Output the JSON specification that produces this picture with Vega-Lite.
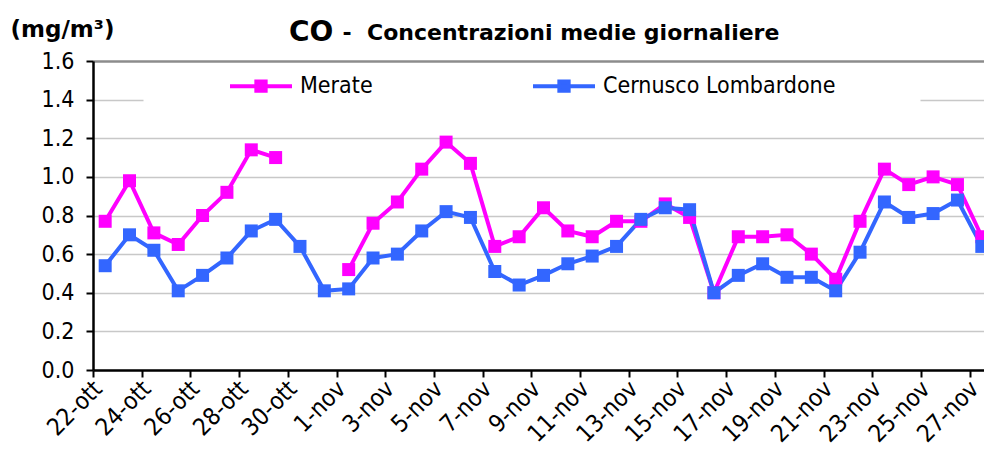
{
  "$schema": "https://vega.github.io/schema/vega-lite/v6.json",
  "width": 891,
  "height": 309,
  "autosize": {"type": "none"},
  "padding": {"left": 93, "top": 61, "right": 0, "bottom": 80},
  "background": "white",
  "config": {"view": {"stroke": null}, "font": "DejaVu Sans"},
  "title": {
    "text": "CO",
    "subtitle": "\u200b\u00a0\u00a0\u00a0\u00a0\u00a0\u00a0\u00a0-\u00a0\u00a0Concentrazioni medie giornaliere",
    "anchor": "start",
    "frame": "group",
    "dx": 196,
    "dy": 29,
    "offset": 0,
    "font": "DejaVu Sans",
    "fontSize": 28,
    "fontWeight": "bold",
    "color": "black",
    "subtitleFont": "DejaVu Sans",
    "subtitleFontSize": 22,
    "subtitleFontWeight": "bold",
    "subtitleColor": "black",
    "subtitlePadding": -24
  },
  "datasets": {
    "co": [
      {"giorno": "2008-10-22", "stazione": "Merate", "valore": 0.77},
      {"giorno": "2008-10-23", "stazione": "Merate", "valore": 0.98},
      {"giorno": "2008-10-24", "stazione": "Merate", "valore": 0.71},
      {"giorno": "2008-10-25", "stazione": "Merate", "valore": 0.65},
      {"giorno": "2008-10-26", "stazione": "Merate", "valore": 0.80},
      {"giorno": "2008-10-27", "stazione": "Merate", "valore": 0.92},
      {"giorno": "2008-10-28", "stazione": "Merate", "valore": 1.14},
      {"giorno": "2008-10-29", "stazione": "Merate", "valore": 1.10},
      {"giorno": "2008-10-30", "stazione": "Merate", "valore": null},
      {"giorno": "2008-10-31", "stazione": "Merate", "valore": null},
      {"giorno": "2008-11-01", "stazione": "Merate", "valore": 0.52},
      {"giorno": "2008-11-02", "stazione": "Merate", "valore": 0.76},
      {"giorno": "2008-11-03", "stazione": "Merate", "valore": 0.87},
      {"giorno": "2008-11-04", "stazione": "Merate", "valore": 1.04},
      {"giorno": "2008-11-05", "stazione": "Merate", "valore": 1.18},
      {"giorno": "2008-11-06", "stazione": "Merate", "valore": 1.07},
      {"giorno": "2008-11-07", "stazione": "Merate", "valore": 0.64},
      {"giorno": "2008-11-08", "stazione": "Merate", "valore": 0.69},
      {"giorno": "2008-11-09", "stazione": "Merate", "valore": 0.84},
      {"giorno": "2008-11-10", "stazione": "Merate", "valore": 0.72},
      {"giorno": "2008-11-11", "stazione": "Merate", "valore": 0.69},
      {"giorno": "2008-11-12", "stazione": "Merate", "valore": 0.77},
      {"giorno": "2008-11-13", "stazione": "Merate", "valore": 0.77},
      {"giorno": "2008-11-14", "stazione": "Merate", "valore": 0.86},
      {"giorno": "2008-11-15", "stazione": "Merate", "valore": 0.79},
      {"giorno": "2008-11-16", "stazione": "Merate", "valore": 0.40},
      {"giorno": "2008-11-17", "stazione": "Merate", "valore": 0.69},
      {"giorno": "2008-11-18", "stazione": "Merate", "valore": 0.69},
      {"giorno": "2008-11-19", "stazione": "Merate", "valore": 0.70},
      {"giorno": "2008-11-20", "stazione": "Merate", "valore": 0.60},
      {"giorno": "2008-11-21", "stazione": "Merate", "valore": 0.47},
      {"giorno": "2008-11-22", "stazione": "Merate", "valore": 0.77},
      {"giorno": "2008-11-23", "stazione": "Merate", "valore": 1.04},
      {"giorno": "2008-11-24", "stazione": "Merate", "valore": 0.96},
      {"giorno": "2008-11-25", "stazione": "Merate", "valore": 1.00},
      {"giorno": "2008-11-26", "stazione": "Merate", "valore": 0.96},
      {"giorno": "2008-11-27", "stazione": "Merate", "valore": 0.69},
      {"giorno": "2008-10-22", "stazione": "Cernusco Lombardone", "valore": 0.54},
      {"giorno": "2008-10-23", "stazione": "Cernusco Lombardone", "valore": 0.70},
      {"giorno": "2008-10-24", "stazione": "Cernusco Lombardone", "valore": 0.62},
      {"giorno": "2008-10-25", "stazione": "Cernusco Lombardone", "valore": 0.41},
      {"giorno": "2008-10-26", "stazione": "Cernusco Lombardone", "valore": 0.49},
      {"giorno": "2008-10-27", "stazione": "Cernusco Lombardone", "valore": 0.58},
      {"giorno": "2008-10-28", "stazione": "Cernusco Lombardone", "valore": 0.72},
      {"giorno": "2008-10-29", "stazione": "Cernusco Lombardone", "valore": 0.78},
      {"giorno": "2008-10-30", "stazione": "Cernusco Lombardone", "valore": 0.64},
      {"giorno": "2008-10-31", "stazione": "Cernusco Lombardone", "valore": 0.41},
      {"giorno": "2008-11-01", "stazione": "Cernusco Lombardone", "valore": 0.42},
      {"giorno": "2008-11-02", "stazione": "Cernusco Lombardone", "valore": 0.58},
      {"giorno": "2008-11-03", "stazione": "Cernusco Lombardone", "valore": 0.60},
      {"giorno": "2008-11-04", "stazione": "Cernusco Lombardone", "valore": 0.72},
      {"giorno": "2008-11-05", "stazione": "Cernusco Lombardone", "valore": 0.82},
      {"giorno": "2008-11-06", "stazione": "Cernusco Lombardone", "valore": 0.79},
      {"giorno": "2008-11-07", "stazione": "Cernusco Lombardone", "valore": 0.51},
      {"giorno": "2008-11-08", "stazione": "Cernusco Lombardone", "valore": 0.44},
      {"giorno": "2008-11-09", "stazione": "Cernusco Lombardone", "valore": 0.49},
      {"giorno": "2008-11-10", "stazione": "Cernusco Lombardone", "valore": 0.55},
      {"giorno": "2008-11-11", "stazione": "Cernusco Lombardone", "valore": 0.59},
      {"giorno": "2008-11-12", "stazione": "Cernusco Lombardone", "valore": 0.64},
      {"giorno": "2008-11-13", "stazione": "Cernusco Lombardone", "valore": 0.78},
      {"giorno": "2008-11-14", "stazione": "Cernusco Lombardone", "valore": 0.84},
      {"giorno": "2008-11-15", "stazione": "Cernusco Lombardone", "valore": 0.83},
      {"giorno": "2008-11-16", "stazione": "Cernusco Lombardone", "valore": 0.40},
      {"giorno": "2008-11-17", "stazione": "Cernusco Lombardone", "valore": 0.49},
      {"giorno": "2008-11-18", "stazione": "Cernusco Lombardone", "valore": 0.55},
      {"giorno": "2008-11-19", "stazione": "Cernusco Lombardone", "valore": 0.48},
      {"giorno": "2008-11-20", "stazione": "Cernusco Lombardone", "valore": 0.48},
      {"giorno": "2008-11-21", "stazione": "Cernusco Lombardone", "valore": 0.41},
      {"giorno": "2008-11-22", "stazione": "Cernusco Lombardone", "valore": 0.61},
      {"giorno": "2008-11-23", "stazione": "Cernusco Lombardone", "valore": 0.87},
      {"giorno": "2008-11-24", "stazione": "Cernusco Lombardone", "valore": 0.79},
      {"giorno": "2008-11-25", "stazione": "Cernusco Lombardone", "valore": 0.81},
      {"giorno": "2008-11-26", "stazione": "Cernusco Lombardone", "valore": 0.88},
      {"giorno": "2008-11-27", "stazione": "Cernusco Lombardone", "valore": 0.64}
    ]
  },
  "data": {"name": "co"},
  "encoding": {
    "x": {
      "field": "giorno",
      "type": "temporal",
      "scale": {
        "type": "utc",
        "domain": [
          {"year": 2008, "month": "Oct", "date": 21, "hours": 12, "utc": true},
          {"year": 2008, "month": "Nov", "date": 27, "hours": 2, "minutes": 10, "utc": true}
        ]
      },
      "axis": {
        "title": null,
        "grid": false,
        "values": [
          {"year": 2008, "month": "Oct", "date": 21, "hours": 12, "utc": true},
          {"year": 2008, "month": "Oct", "date": 23, "hours": 12, "utc": true},
          {"year": 2008, "month": "Oct", "date": 25, "hours": 12, "utc": true},
          {"year": 2008, "month": "Oct", "date": 27, "hours": 12, "utc": true},
          {"year": 2008, "month": "Oct", "date": 29, "hours": 12, "utc": true},
          {"year": 2008, "month": "Oct", "date": 31, "hours": 12, "utc": true},
          {"year": 2008, "month": "Nov", "date": 2, "hours": 12, "utc": true},
          {"year": 2008, "month": "Nov", "date": 4, "hours": 12, "utc": true},
          {"year": 2008, "month": "Nov", "date": 6, "hours": 12, "utc": true},
          {"year": 2008, "month": "Nov", "date": 8, "hours": 12, "utc": true},
          {"year": 2008, "month": "Nov", "date": 10, "hours": 12, "utc": true},
          {"year": 2008, "month": "Nov", "date": 12, "hours": 12, "utc": true},
          {"year": 2008, "month": "Nov", "date": 14, "hours": 12, "utc": true},
          {"year": 2008, "month": "Nov", "date": 16, "hours": 12, "utc": true},
          {"year": 2008, "month": "Nov", "date": 18, "hours": 12, "utc": true},
          {"year": 2008, "month": "Nov", "date": 20, "hours": 12, "utc": true},
          {"year": 2008, "month": "Nov", "date": 22, "hours": 12, "utc": true},
          {"year": 2008, "month": "Nov", "date": 24, "hours": 12, "utc": true},
          {"year": 2008, "month": "Nov", "date": 26, "hours": 12, "utc": true}
        ],
        "labelExpr": "utcdate(datum.value + 43200000) + '-' + (utcmonth(datum.value + 43200000) == 9 ? 'ott' : 'nov')",
        "labelAngle": -45,
        "labelAlign": "right",
        "labelBaseline": "middle",
        "labelOffset": 5,
        "labelFont": "DejaVu Sans Condensed, Liberation Sans, sans-serif",
        "labelFontSize": 24,
        "labelColor": "black",
        "labelPadding": 8,
        "labelOverlap": false,
        "labelBound": false,
        "labelFlush": false,
        "tickSize": 7,
        "tickWidth": 2,
        "tickColor": "black",
        "domainColor": "black",
        "domainWidth": 2.5
      }
    },
    "y": {
      "field": "valore",
      "type": "quantitative",
      "scale": {"domain": [0, 1.6], "nice": false, "zero": true},
      "axis": {
        "values": [0, 0.2, 0.4, 0.6, 0.8, 1.0, 1.2, 1.4, 1.6],
        "format": ".1f",
        "title": "(mg/m³)",
        "titleAngle": 0,
        "titleX": -83,
        "titleY": -25,
        "titleAlign": "left",
        "titleBaseline": "alphabetic",
        "titleFont": "DejaVu Sans",
        "titleFontSize": 23,
        "titleFontWeight": "bold",
        "titleColor": "black",
        "labelFont": "DejaVu Sans Condensed, Liberation Sans, sans-serif",
        "labelFontSize": 23,
        "labelColor": "black",
        "labelPadding": 12,
        "labelFlush": false,
        "labelOverlap": false,
        "tickSize": 7,
        "tickWidth": 2,
        "tickColor": "black",
        "domainColor": "black",
        "domainWidth": 2.5,
        "grid": true,
        "gridColor": {"condition": {"test": "datum.value >= 1.59", "value": "#8c8c8c"}, "value": "#c8c8c8"},
        "gridWidth": {"condition": {"test": "datum.value >= 1.59", "value": 2.5}, "value": 1.5},
        "gridDash": {"condition": {"test": "abs(datum.value - 1.4) < 0.01", "value": [50, 777, 2000]}, "value": []}
      }
    },
    "color": {
      "field": "stazione",
      "type": "nominal",
      "scale": {"domain": ["Merate", "Cernusco Lombardone"], "range": ["#FF00FF", "#3366FF"]},
      "legend": {
        "orient": "none",
        "legendX": 135,
        "legendY": -8,
        "direction": "horizontal",
        "title": null,
        "padding": 0,
        "symbolType": "M-1,0H1M-0.15,-0.15H0.15V0.15H-0.15Z",
        "symbolSize": 3844,
        "symbolStrokeWidth": 4,
        "labelFont": "DejaVu Sans Condensed, Liberation Sans, sans-serif",
        "labelFontSize": 23,
        "labelColor": "black",
        "labelOffset": 6,
        "labelLimit": 400,
        "columnPadding": 152,
        "encode": {
          "symbols": {
            "update": {
              "fill": {"scale": "color", "field": "value"},
              "stroke": {"scale": "color", "field": "value"},
              "opacity": {"value": 1}
            }
          }
        }
      }
    }
  },
  "layer": [
    {"mark": {"type": "line", "strokeWidth": 4, "clip": true, "invalid": "break-paths-show-domains"}},
    {"mark": {"type": "point", "shape": "square", "filled": true, "size": 169, "opacity": 1, "clip": true}}
  ]
}
